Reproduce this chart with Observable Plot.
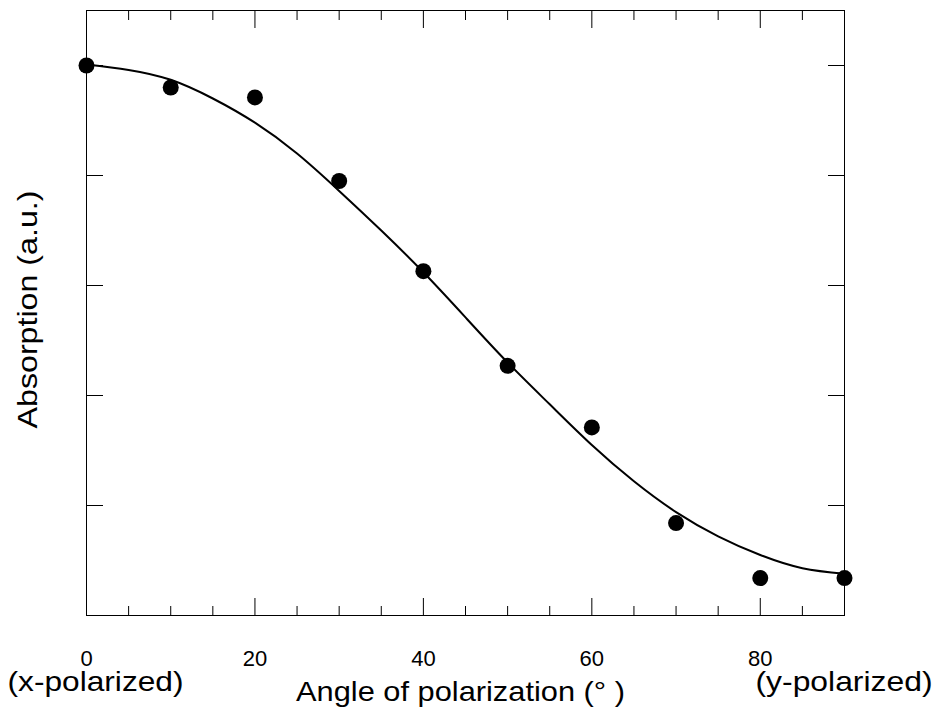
<!DOCTYPE html>
<html><head><meta charset="utf-8">
<script src="https://cdn.jsdelivr.net/npm/d3@7"></script>
<script src="https://cdn.jsdelivr.net/npm/@observablehq/plot@0.6"></script>
<style>body{margin:0;background:#fff;}</style>
</head><body><div id="chart"></div>
<script>
// measured points
const angles = [0, 10, 20, 30, 40, 50, 60, 70, 80, 90];
const absorption = [5.0, 4.80, 4.71, 3.95, 3.13, 2.27, 1.71, 0.84, 0.34, 0.34];
// fitted curve, every 5 degrees
const fitAngles = [0, 5, 10, 15, 20, 25, 30, 35, 40, 45, 50, 55, 60, 65, 70, 75, 80, 85, 90];
const fitValues = [5.01, 4.96, 4.87, 4.70, 4.48, 4.20, 3.86, 3.50, 3.12, 2.71, 2.30, 1.92, 1.55, 1.22, 0.94, 0.72, 0.55, 0.43, 0.38];
// ticks and labels
const minorTicks = [5, 10, 15, 25, 30, 35, 45, 50, 55, 65, 70, 75, 85];
const majorTicks = [0, 20, 40, 60, 80, 90];
const tickLabels = [0, 20, 40, 60, 80];
const yTicks = [0, 1, 2, 3, 4, 5];
const xTitle = "Angle of polarization (° )";
const yTitle = "Absorption (a.u.)";
const leftNote = "(x-polarized)";
const rightNote = "(y-polarized)";

const points = angles.map((a, i) => ({angle: a, value: absorption[i]}));
const fit = fitAngles.map((a, i) => ({angle: a, value: fitValues[i]}));
const blank = () => "";

const plot = Plot.plot({
  width: 936, height: 711,
  marginTop: 10, marginRight: 92, marginBottom: 96, marginLeft: 86,
  style: {fontFamily: "'Liberation Sans', Arial, sans-serif", background: "white", color: "black"},
  x: {domain: [0, 90]},
  y: {domain: [0, 5.5]},
  marks: [
    Plot.frame({stroke: "black", strokeWidth: 1}),
    // bottom ticks (inward)
    Plot.axisX(minorTicks, {anchor: "bottom", tickSize: 9, dy: -9, tickFormat: blank, label: null}),
    Plot.axisX(majorTicks, {anchor: "bottom", tickSize: 17, dy: -17, tickFormat: blank, label: null}),
    // top ticks (inward)
    Plot.axisX(minorTicks, {anchor: "top", tickSize: 9, dy: 9, tickFormat: blank, label: null}),
    Plot.axisX(majorTicks, {anchor: "top", tickSize: 17, dy: 17, tickFormat: blank, label: null}),
    // y ticks (inward), no labels
    Plot.axisY(yTicks, {anchor: "left", tickSize: 17, dx: 17, tickFormat: blank, label: null}),
    Plot.axisY(yTicks, {anchor: "right", tickSize: 17, dx: -17, tickFormat: blank, label: null}),
    // x tick labels
    Plot.axisX(tickLabels, {anchor: "bottom", tickSize: 0, tickPadding: 35, fontSize: 22, label: null}),
    // curve and points
    Plot.line(fit, {x: "angle", y: "value", curve: "natural", stroke: "black", strokeWidth: 2}),
    Plot.dot(points, {x: "angle", y: "value", r: 8, fill: "black", stroke: "none"}),
    // titles
    Plot.text([xTitle], {frameAnchor: "bottom", textAnchor: "middle", dx: -5, dy: 85, fontSize: 28, fill: "black"}),
    Plot.text([leftNote], {frameAnchor: "bottom-left", textAnchor: "start", dx: -79, dy: 75, fontSize: 28, fill: "black"}),
    Plot.text([rightNote], {frameAnchor: "bottom-right", textAnchor: "start", dx: -89, dy: 75, fontSize: 28, fill: "black"}),
    Plot.text([yTitle], {frameAnchor: "left", textAnchor: "middle", rotate: -90, dx: -58, dy: -3.5, fontSize: 28, fill: "black"})
  ]
});
document.getElementById("chart").append(plot);

// stretch the large labels to the widths of the original typeface
const widths = {};
widths[xTitle] = 329; widths[leftNote] = 176; widths[rightNote] = 177; widths[yTitle] = 238;
d3.select(plot).selectAll("text").each(function() {
  const w = widths[this.textContent];
  if (w) d3.select(this).attr("textLength", w).attr("lengthAdjust", "spacingAndGlyphs");
});
</script>
</body></html>
